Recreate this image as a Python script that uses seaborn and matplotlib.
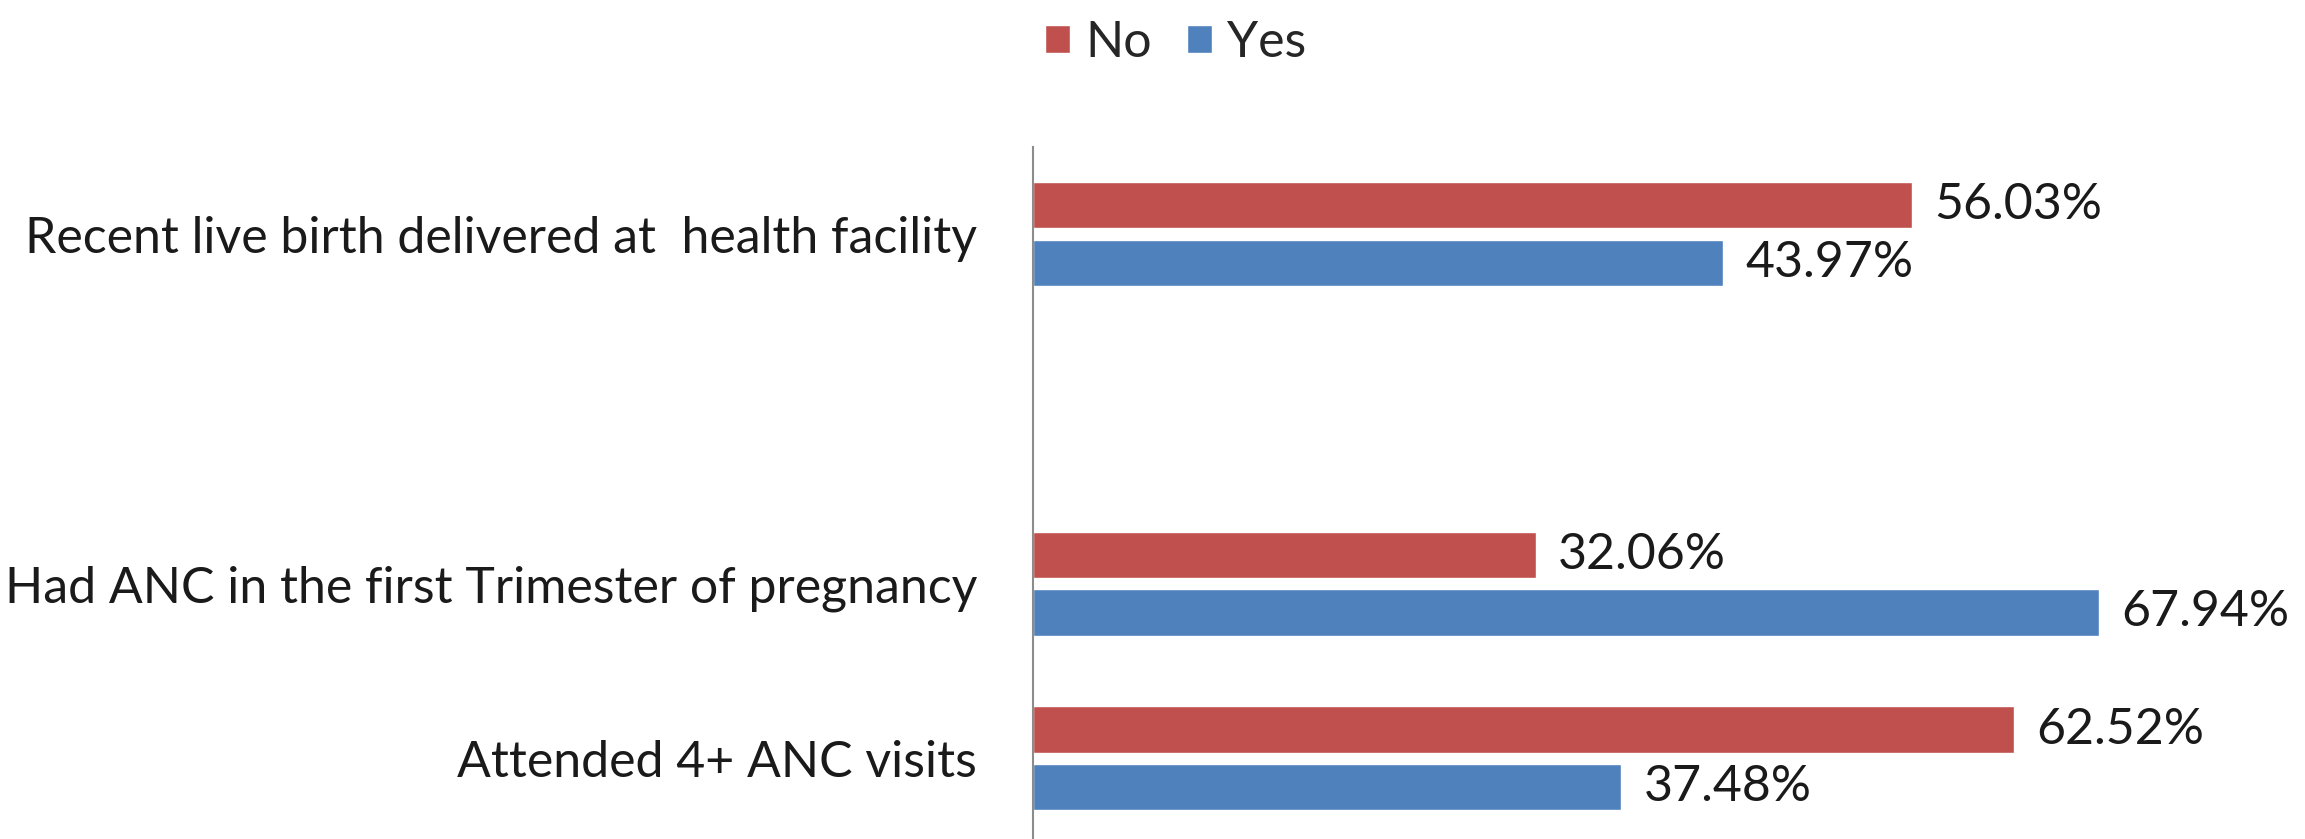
import matplotlib
matplotlib.use("Agg")
import matplotlib.pyplot as plt
import seaborn as sns
import pandas as pd

categories = ['Recent live birth delivered at  health facility',
              'Had ANC in the first Trimester of pregnancy',
              'Attended 4+ ANC visits']
no_values = [56.03, 32.06, 62.52]
yes_values = [43.97, 67.94, 37.48]

# Excel leaves an empty slot between the first and second group
order = [categories[0], ' ', categories[1], categories[2]]

df = pd.DataFrame({
    'category': categories * 2,
    'response': ['No'] * 3 + ['Yes'] * 3,
    'value': no_values + yes_values,
})

sns.set_style('white')
plt.rcParams['font.family'] = ['Lato', 'DejaVu Sans']
fs = 36

fig = plt.figure(figsize=(23.05, 8.39), dpi=100)
ax = fig.add_axes([0.448, -0.008, 0.545, 0.833])

sns.barplot(data=df, y='category', x='value', hue='response', order=order,
            hue_order=['No', 'Yes'], palette=['#C0504D', '#4F81BD'],
            saturation=1, orient='h', width=0.66, gap=0.2, ax=ax)

for cont in ax.containers:
    ax.bar_label(cont, fmt='%.2f%%', padding=16, fontsize=fs, color='#1a1a1a')

ax.set_xlim(0, 80)
ax.set_xlabel('')
ax.set_ylabel('')
ax.set_xticks([])
ax.tick_params(axis='y', length=0, pad=40, labelsize=fs, labelcolor='#1a1a1a')

for s in ['top', 'right', 'bottom']:
    ax.spines[s].set_visible(False)
ax.spines['left'].set_color('#8c8c8c')
ax.spines['left'].set_linewidth(1.5)

sns.move_legend(ax, 'upper center', bbox_to_anchor=(0.51, 1.03),
                bbox_transform=fig.transFigure, ncol=2, frameon=False,
                title=None, fontsize=fs, handlelength=0.5, handleheight=0.5,
                handletextpad=0.3, columnspacing=0.7)

fig.savefig('out.png', dpi=100)
